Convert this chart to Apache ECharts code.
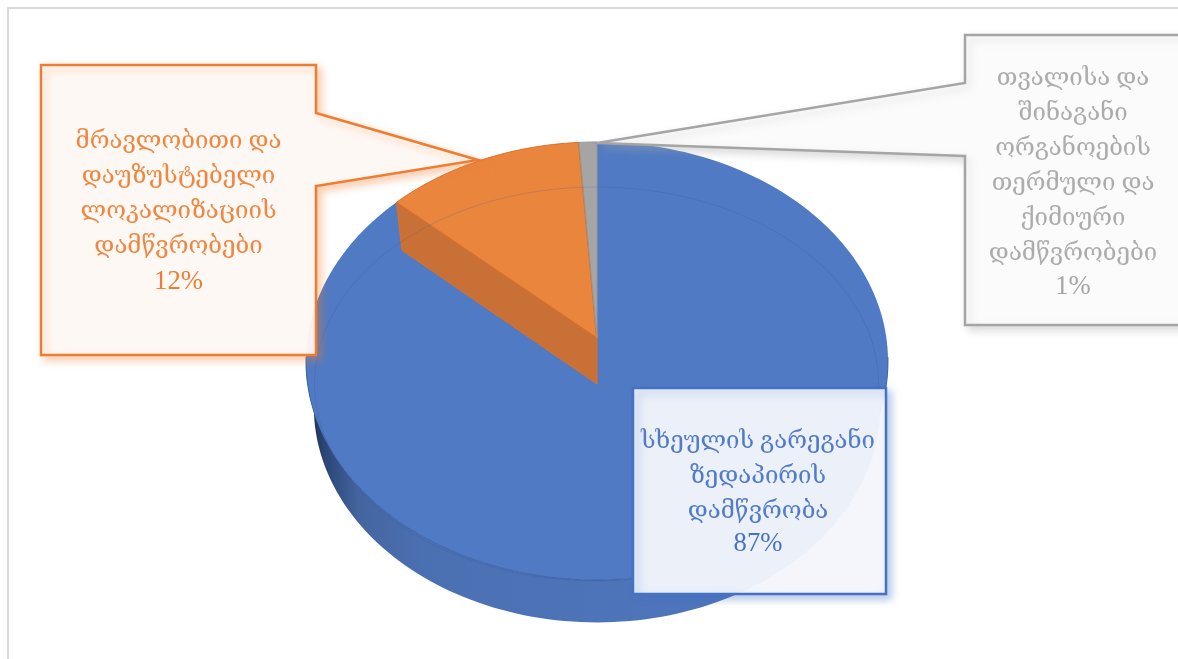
<!DOCTYPE html>
<html>
<head>
<meta charset="utf-8">
<style>
    html, body { margin: 0; padding: 0; background: #fff; }
    #chart { width: 1178px; height: 659px; }
</style>
<script src="https://cdn.jsdelivr.net/npm/echarts@6/dist/echarts.min.js"></script>
</head>
<body>
<div id="chart"></div>
<script>
const categories = [
    "სხეულის გარეგანი\nზედაპირის\nდამწვრობა",
    "მრავლობითი და\nდაუზუსტებელი\nლოკალიზაციის\nდამწვრობები",
    "თვალისა და\nშინაგანი\nორგანოების\nთერმული და\nქიმიური\nდამწვრობები",
];
const values = [86.7, 12.2, 1.1];
const topColors = ["#507ac3", "#ea853e", "#a5a5a5"];
const edgeColors = ["#3f64a9", "#dc7029", "#979797"];
const textColors = ["#4472c4", "#ed7d31", "#a5a5a5"];

const total = values.reduce((a, b) => a + b, 0);
const fontFamily = '"Liberation Serif", "DejaVu Serif", serif';

// projected disc: apex is not the ellipse centre because of the 3D perspective
const apexX = 597, apexY = 338, depth = 46;
const scaleX = 289.4, scaleY = 216.6, persp = 0.105;

function project(deg, level) {
    const a = deg * Math.PI / 180;
    const u = Math.sin(a), v = Math.cos(a);
    const w = 1 + persp * v;
    return [
        apexX + (1 - 0.027 * level) * scaleX * u / w,
        apexY + depth * level - (1 - 0.015 * level) * scaleY * v / w,
    ];
}

function arcPoints(from, to, level) {
    const pts = [];
    const steps = Math.max(2, Math.ceil(Math.abs(to - from) / 1.5));
    for (let i = 0; i <= steps; i++) {
        pts.push(project(from + (to - from) * i / steps, level));
    }
    return pts;
}

function renderSlice(params, api) {
    const idx = params.dataIndex;
    let before = 0;
    for (let i = 0; i < idx; i++) before += values[i];
    const start = before / total * 360;
    const end = start + api.value(0) / total * 360;
    const children = [];

    if (idx === 0) {
        // outer wall, only the front of the disc shows
        const upper = arcPoints(95, 265, 0);
        const lower = arcPoints(265, 95, 1);
        children.push({
            type: "polygon",
            shape: { points: upper.concat(lower) },
            style: {
                fill: new echarts.graphic.LinearGradient(0, 0, 1, 0, [
                    { offset: 0, color: "#16264a" },
                    { offset: 0.03, color: "#2a4475" },
                    { offset: 0.09, color: "#44659f" },
                    { offset: 0.2, color: "#4b70b2" },
                    { offset: 0.6, color: "#4e74ba" },
                    { offset: 1, color: "#4e74ba" },
                ]),
            },
        });
    }
    children.push({
        type: "polygon",
        shape: { points: [[apexX, apexY]].concat(arcPoints(start, end, 0)) },
        style: { fill: topColors[idx], stroke: idx === 0 ? null : edgeColors[idx], lineWidth: 1 },
    });
    if (idx === 0) {
        children.push({
            type: "polyline",
            shape: { points: arcPoints(95, 265, 0) },
            style: { fill: null, stroke: edgeColors[0], lineWidth: 1 },
        });
    }
    if (idx === 1) {
        // cut face of the slice, falls over the blue top
        const a = project(start, 0), b = project(start, 1);
        children.push({
            type: "polygon",
            shape: { points: [a, [apexX, apexY], [apexX, apexY + depth], b] },
            style: { fill: "#c97036", stroke: edgeColors[1], lineWidth: 1 },
        });
        children.push({
            type: "line",
            shape: { x1: project(end, 0)[0], y1: project(end, 0)[1], x2: apexX, y2: apexY },
            style: { stroke: "#d96d26", lineWidth: 2 },
        });
    }
    return { type: "group", children };
}

// faint bevel ring of the disc top
function bevelPoints() {
    const pts = [];
    for (let d = 0; d <= 360; d += 2) {
        const a = d * Math.PI / 180;
        pts.push([596.5 + 282 * Math.sin(a), 384 - 197 * Math.cos(a)]);
    }
    return pts;
}

function callout(points, idx, fill, textX, textY, pctY) {
    const pct = Math.round(values[idx] / total * 100) + "%";
    return [
        {
            type: "polygon",
            z: 20 - idx,
            shape: { points },
            style: {
                fill,
                stroke: textColors[idx],
                lineWidth: 2.5,
                lineJoin: "miter",
                shadowBlur: 8,
                shadowOffsetX: 4,
                shadowOffsetY: 4,
                shadowColor: textColors[idx] + "66",
            },
        },
        {
            type: "text",
            z: 30,
            style: {
                text: categories[idx],
                x: textX,
                y: textY,
                align: "center",
                verticalAlign: "middle",
                font: '24px ' + fontFamily,
                lineHeight: 35,
                fill: textColors[idx],
                opacity: 0.92,
            },
        },
        {
            type: "text",
            z: 30,
            style: {
                text: pct,
                x: textX,
                y: pctY,
                align: "center",
                verticalAlign: "middle",
                font: '26.67px ' + fontFamily,
                fill: textColors[idx],
            },
        },
    ];
}

const chart = echarts.init(document.getElementById("chart"), null, { renderer: "canvas" });
chart.setOption({
    animation: false,
    backgroundColor: "#fff",
    graphic: {
        elements: [
            {
                type: "rect",
                z: -1,
                shape: { x: 8, y: 8, width: 1300, height: 800 },
                style: { fill: "#fff", stroke: "#d9d9d9", lineWidth: 2 },
            },
            {
                type: "polyline",
                z: 5,
                shape: { points: bevelPoints() },
                style: { fill: null, stroke: "rgba(50,80,150,0.2)", lineWidth: 1 },
            },
            ...callout(
                [[41, 65], [316, 65], [316, 113], [478, 160], [316, 186], [316, 355], [41, 355]],
                1, "rgba(254,251,249,0.94)", 178.5, 194.5, 282
            ),
            ...callout(
                [[965, 35], [1300, 35], [1300, 325], [965, 325], [965, 156], [597, 143], [965, 83]],
                2, "rgba(253,253,253,0.94)", 1073, 166, 287
            ),
            ...callout(
                [[633, 388], [886, 388], [886, 594], [633, 594]],
                0, "rgba(249,250,253,0.93)", 758, 477, 544
            ),
        ],
    },
    series: [
        {
            type: "custom",
            coordinateSystem: "none",
            silent: true,
            z: 2,
            data: values.map((v, i) => ({ value: [v], name: categories[i] })),
            renderItem: renderSlice,
        },
    ],
});
</script>
</body>
</html>
